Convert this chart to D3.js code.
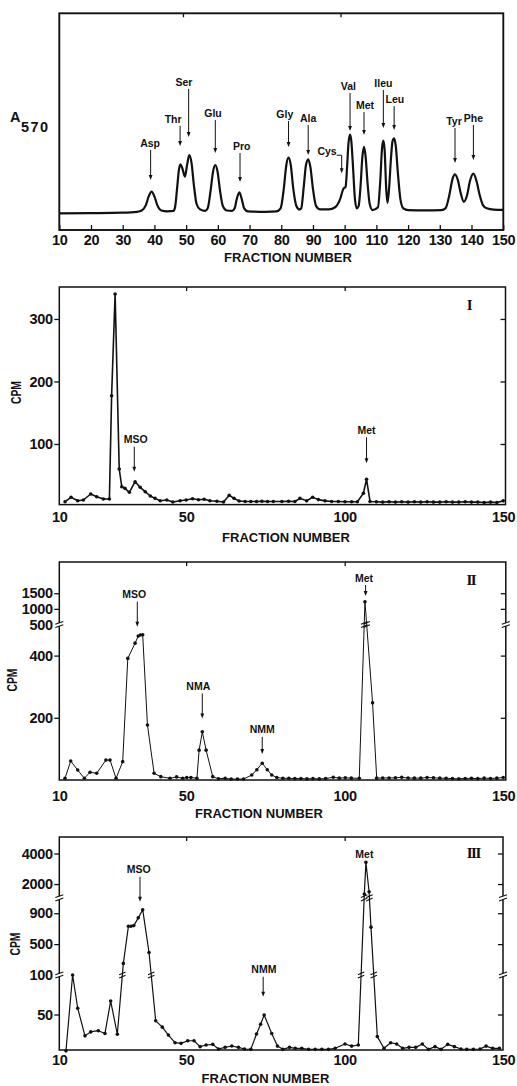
<!DOCTYPE html>
<html><head><meta charset="utf-8">
<script src="https://cdn.jsdelivr.net/npm/d3@7/dist/d3.min.js"></script>
<style>html,body{margin:0;padding:0;background:#fff}svg{display:block}</style>
</head><body>
<svg id="chart" width="517" height="1086"></svg>
<script>
// ================= DATA =================
// shared x ticks
const xTickValuesAmino = [10,20,30,40,50,60,70,80,90,100,110,120,130,140,150];
const xTickValuesCpm = [10,50,100,150];
const topTickFractionAmino = [49,98.7];
const topTickFractionCpm = [50,100];

// Panel A: amino acid analyser trace (A570)
const a570Fraction = [10,20,30,34.5,
  36,37.3,38.2,39.1,40,40.9,42.2,44,46,
  46.5,47.2,47.7,48.2,48.8,49.6,50.3,51.0,51.7,52.5,53.3,54.4,56,
  56.8,57.7,58.5,59.2,59.9,60.7,61.6,62.8,64.5,
  65.3,66,66.8,67.5,68.3,69.5,75,78.5,
  79.8,80.8,81.6,82.3,83,83.8,84.8,85.8,
  86.3,87.1,87.8,88.5,89.2,90,91,92.3,95,
  97,98.5,99.6,100.3,100.8,101.2,101.7,102.1,102.6,103.2,103.8,
  104.4,105,105.6,106.1,106.6,107.2,107.9,108.8,
  110.5,111.2,111.8,112.2,112.6,113.1,113.5,
  114,114.6,115.1,115.6,116.1,116.8,117.6,118.5,120,125,130.5,
  131.8,133,134,134.8,135.7,136.6,137.6,
  138.6,139.5,140.6,141.6,142.6,143.6,144.8,147,150];
const a570Value = [0.077,0.078,0.080,0.084,
  0.090,0.115,0.155,0.177,0.155,0.115,0.090,0.086,0.088,
  0.105,0.200,0.275,0.303,0.285,0.246,0.300,0.346,0.310,0.200,0.120,0.095,0.088,
  0.100,0.180,0.270,0.300,0.270,0.180,0.110,0.090,0.088,
  0.100,0.145,0.174,0.145,0.100,0.086,0.084,0.086,
  0.100,0.190,0.300,0.334,0.300,0.190,0.110,0.095,
  0.100,0.200,0.300,0.326,0.290,0.190,0.110,0.095,0.095,
  0.105,0.140,0.190,0.200,0.300,0.400,0.440,0.410,0.300,0.150,0.100,
  0.110,0.200,0.340,0.384,0.340,0.220,0.120,0.092,
  0.105,0.220,0.380,0.412,0.370,0.190,0.125,
  0.190,0.330,0.410,0.423,0.390,0.260,0.140,0.100,0.092,0.091,0.092,
  0.100,0.160,0.235,0.257,0.230,0.170,0.130,
  0.160,0.225,0.260,0.225,0.160,0.115,0.100,0.094,0.093];
const aminoNames = ["Asp","Thr","Ser","Glu","Pro","Gly","Ala","Cys","Val","Met","Ileu","Leu","Tyr","Phe"];
const aminoArrowFraction = [38.8,48.1,50.8,59.2,67.0,82.3,88.5,99.06,101.7,106.1,112.2,115.6,134.8,140.6];
const aminoArrowTip = [0.231,0.388,0.429,0.355,0.2215,0.383,0.346,0.262,0.457,0.438,0.471,0.461,0.309,0.323];

// Panel I
const cpm1Fraction = [11.8,13.7,15.8,17.6,19.9,21.8,23.9,25.8,26.5,27.6,28.9,29.7,30.7,32.1,33.9,35.5,37.1,38.7,40.2,41.8,43.9,45.8,48.1,50.0,52.0,53.9,55.7,57.5,59.7,61.8,63.6,65.1,66.7,68.6,70.4,72.2,73.9,75.7,77.5,80.2,82.3,84.3,85.9,88.0,89.9,91.7,93.8,95.9,98.0,100.1,102.2,104.0,105.9,106.9,108.0,110,112,114,116,118,120,122,124,126,128,130,132,134,136,138,140,142,144,146,148,150];
const cpm1Value = [7.7,14.7,9.3,10.4,20,15.7,12,12,177,340,60,31.7,29,22.7,39.7,30.7,23.7,16.8,13,9.3,10.4,7.2,9.3,10.4,12.5,10.9,11.5,9.3,8.3,7.2,17.9,13,8.8,8,8,8,8.5,8,8,8,8.5,8,13,9,14.7,11,9,8,8,7.5,7.5,7.5,21,43.5,8,7.5,7,7.5,7,7.5,7,7.5,7,7.5,7,7,7.5,7,7,7.5,7,7,6.5,7,6.5,9];
const cpm1Ticks = [100,200,300];
const cpm1Names = ["MSO","Met"];
const cpm1ArrowFraction = [33.65,106.9];
const cpm1ArrowTip = [55.7,69];

// Panel II (broken axis at 500)
const cpm2Fraction = [11.8,13.6,15.8,17.9,19.7,21.8,24.7,26.0,27.9,30.0,31.6,33.9,34.9,35.6,36.3,37.8,39.9,42.0,44.9,47.0,48.9,50.2,51.5,53.4,54.1,55.1,56.3,58.4,60.2,62.3,64.2,66.2,68.1,70.7,72.3,74.0,75.6,77.0,78.6,80.5,82.4,84.3,86.2,88.1,90.0,92.0,94.0,96.4,98.3,100.2,102.1,104.6,106.4,108.8,110.1,112,114,116,118,120,122,124,126,128,130,132,134,136,138,140,142,144,146,148,150];
const cpm2Value = [5.5,61,32,5.5,25,21.5,64,64,5.5,59,391,440,463,466,467,177,21.5,10.7,5.5,10,5.5,8,8,5.5,96,155,96,10.7,4,5.5,3,3,3,16,33,54,33,16,8,5.5,5.5,4.5,4.5,3.5,4.5,3.5,4.5,9,6,7,6,5.5,1230,248,6,6.5,6.5,7,8.5,6.5,6,6,8,7,6,5.5,4.5,3.5,5,5.5,4.5,6,5,6,8];
const cpm2Ticks = [200,400,500,1000,1500];
const cpm2Breaks = [500];
const cpm2Names = ["MSO","NMA","NMM","Met"];
const cpm2ArrowFraction = [34.6,55.1,74.0,106.6];
const cpm2ArrowTip = [493,198,84,1412];

// Panel III (broken axis at 100 and 1100)
const cpm3Fraction = [12.1,14.2,15.8,18.1,19.9,22.3,24.4,26.2,28.3,30.2,31.8,32.6,33.5,34.9,36.3,38.3,40.4,42.5,44.4,46.5,48.4,50.5,52.5,54.4,56.3,58.4,60.2,62.3,64.4,66.5,68.4,70.4,72.2,73.5,74.6,77.0,78.8,80.5,82.6,84.4,86.5,88.6,90.7,92.8,94.9,97.0,100.1,102.2,104.3,106.2,106.7,107.7,108.3,110.3,112.4,114.5,116.4,118.3,120.3,122.4,124.5,126.4,128.5,130.4,132.5,134.6,136.7,138.5,140.6,142.7,144.6,146.7,148.8];
const cpm3Value = [4,100,58,23,28,29.5,26,67,25,250,732,732,740,840,946,391,42,34,24,14.3,13.5,16.8,16.8,9.3,11.4,12.2,6.3,8.4,10.1,8.4,6.3,5.9,25.3,37.6,49.4,26,10,5.9,8.4,7.2,7.2,5.9,5.9,5.9,5.9,7.2,12.7,10,11.4,1347,3420,1500,720,22,7.2,14.3,12.7,7.2,8.4,8.4,12.7,5.9,9.3,5.9,12.2,9.3,6.3,5.9,5.9,6.3,10,7.2,7.2];
const cpm3Ticks = [50,100,500,900,2000,4000];
const cpm3Breaks = [100,1100];
const cpm3Names = ["MSO","NMM","Met"];
const cpm3ArrowFraction = [35.45,74.3,106.7];
const cpm3ArrowTip = [1049,72.5,3420];

// ================= LAYOUT / STYLE =================
const ink = "#111";
const NUMF = "'Liberation Sans', Arial, sans-serif";
const TXTF = "'Liberation Sans', Arial, sans-serif";
const SERF = "'Liberation Serif', 'Times New Roman', serif";
const NUM_SIZE = 14.5;
const aminoLayout = { // arrow length (px) and label x offset (px)
  len: [30,20,48,33,29,26,30,18,38,23,38,24,35,35],
  dx:  [-0.5,-7,-4.7,-2.3,1.7,-3.7,0,0,-1.7,1,0,0.7,-1,0]
};

const svg = d3.select("#chart");
const x = d3.scaleLinear().domain([10,150]).range([59.3,503.2]);

function frame(p, sw){
  svg.append("rect").attr("x",p.left).attr("y",p.top)
    .attr("width",p.right-p.left).attr("height",p.bottom-p.top)
    .attr("fill","none").attr("stroke",ink).attr("stroke-width",sw);
}
function styleAxis(g, fs){
  g.select(".domain").remove();
  g.selectAll("line").attr("stroke",ink).attr("stroke-width",1.3);
  g.selectAll("text").attr("fill",ink).attr("font-family",NUMF)
    .attr("font-weight","bold").attr("font-size",fs).attr("letter-spacing",-0.3);
  return g;
}
function label(txt, xx, yy, opts={}){
  return svg.append("text").attr("x",xx).attr("y",yy).text(txt)
    .attr("fill",ink).attr("font-family",opts.font||TXTF).attr("font-weight","bold")
    .attr("font-size",opts.size||10.5).attr("text-anchor",opts.anchor||"middle")
    .attr("letter-spacing",opts.ls||0);
}
function arrow(xa, y1, yTip, sw=1){
  svg.append("line").attr("x1",xa).attr("x2",xa).attr("y1",y1).attr("y2",yTip-3)
    .attr("stroke",ink).attr("stroke-width",sw);
  svg.append("path").attr("d",`M${xa-1.9},${yTip-5}L${xa+1.9},${yTip-5}L${xa},${yTip}Z`).attr("fill",ink);
}
function breakMark(cx, cy, half=4, gapWhite=false){
  if(gapWhite) svg.append("rect").attr("x",cx-2).attr("y",cy-1.6).attr("width",4).attr("height",3.2).attr("fill","#fff");
  [-1.7,1.7].forEach(o=>{
    svg.append("line").attr("x1",cx-half).attr("y1",cy+o+1.4).attr("x2",cx+half).attr("y2",cy+o-1.4)
      .attr("stroke",ink).attr("stroke-width",1.1);
  });
}
function xTitle(cx, by){
  label("FRACTION NUMBER", cx, by, {size:13});
}
function cpmTitle(cx, cy){
  svg.append("text").attr("transform",`translate(${cx},${cy}) rotate(-90)`)
    .attr("text-anchor","middle").attr("dy","0.36em").text("CPM")
    .attr("fill",ink).attr("font-family",TXTF).attr("font-weight","bold")
    .attr("font-size",14.5).attr("textLength",23).attr("lengthAdjust","spacingAndGlyphs");
}

// ================= PANEL A =================
const PA = {left:59.3,right:503.3,top:13.3,bottom:230};
const yA = d3.scaleLinear().domain([0,1]).range([PA.bottom,PA.top]);
frame(PA, 1.9);
styleAxis(svg.append("g").attr("transform",`translate(0,${PA.bottom})`)
  .call(d3.axisBottom(x).tickValues(xTickValuesAmino).tickSize(-5).tickPadding(4.6).tickFormat(d3.format("d"))), NUM_SIZE);
styleAxis(svg.append("g").attr("transform",`translate(0,${PA.top})`)
  .call(d3.axisTop(x).tickValues(topTickFractionAmino).tickSize(-4).tickFormat("")), NUM_SIZE);
svg.append("path").datum(d3.zip(a570Fraction,a570Value))
  .attr("d", d3.line().x(d=>x(d[0])).y(d=>yA(d[1])).curve(d3.curveMonotoneX))
  .attr("fill","none").attr("stroke",ink).attr("stroke-width",2.2).attr("stroke-linejoin","round");
aminoNames.forEach((n,i)=>{
  const xa = x(aminoArrowFraction[i]), tip = yA(aminoArrowTip[i]), y1 = tip - aminoLayout.len[i];
  if(n==="Cys"){
    svg.append("path").attr("d",`M${xa-5},${y1}H${xa}V${tip-3}`).attr("fill","none").attr("stroke",ink).attr("stroke-width",1);
    svg.append("path").attr("d",`M${xa-1.9},${tip-5}L${xa+1.9},${tip-5}L${xa},${tip}Z`).attr("fill",ink);
    label(n, xa-5, y1, {anchor:"end"});
  } else {
    arrow(xa, y1, tip);
    label(n, xa + aminoLayout.dx[i], y1 - 3);
  }
});
const aT = svg.append("text").attr("x",10).attr("y",122).attr("fill",ink)
  .attr("font-family",NUMF).attr("font-weight","bold").attr("font-size",14.5);
aT.append("tspan").text("A");
aT.append("tspan").attr("dx",0.5).attr("dy",10).attr("letter-spacing",1.5).text("570");
xTitle(288, 261.7);

// ================= generic CPM panel =================
function cpmPanel(P, y, fr, val, ticks, breaks, names, aFr, aTip, aLen, aDx, roman, romanPos, xPad, lineW, cpmPos, titlePos){
  frame(P, 1.5);
  const gl = styleAxis(svg.append("g").attr("transform",`translate(${P.left},0)`)
    .call(d3.axisLeft(y).tickValues(ticks).tickSize(5).tickPadding(1.5).tickFormat(d3.format("d"))), NUM_SIZE);
  gl.selectAll(".tick").filter(d=>breaks.includes(d)).select("line").remove();
  styleAxis(svg.append("g").attr("transform",`translate(${P.right},0)`)
    .call(d3.axisLeft(y).tickValues(ticks.filter(t=>!breaks.includes(t))).tickSize(5).tickFormat("")), NUM_SIZE);
  styleAxis(svg.append("g").attr("transform",`translate(0,${P.bottom})`)
    .call(d3.axisBottom(x).tickValues(xTickValuesCpm).tickSize(0).tickPadding(xPad).tickFormat(d3.format("d"))), NUM_SIZE);
  styleAxis(svg.append("g").attr("transform",`translate(0,${P.top})`)
    .call(d3.axisTop(x).tickValues(topTickFractionCpm).tickSize(-4).tickFormat("")), NUM_SIZE);
  breaks.forEach(b=>{ breakMark(P.left, y(b), 4, true); breakMark(P.right, y(b), 4, true); });
  const pts = d3.zip(fr,val);
  svg.append("path").datum(pts)
    .attr("d", d3.line().x(d=>x(d[0])).y(d=>y(d[1])))
    .attr("fill","none").attr("stroke",ink).attr("stroke-width",lineW).attr("stroke-linejoin","round");
  for(let i=1;i<pts.length;i++){
    const [f1,v1]=pts[i-1],[f2,v2]=pts[i];
    breaks.forEach(b=>{
      if((v1-b)*(v2-b)<0){
        const ya=y(v1), yb=y(v2), yc=y(b), t=(yc-ya)/(yb-ya);
        breakMark(x(f1)+t*(x(f2)-x(f1)), yc, 3.2, false);
      }
    });
  }
  svg.append("g").selectAll("circle").data(pts).join("circle")
    .attr("cx",d=>x(d[0])).attr("cy",d=>y(d[1])).attr("r",1.8).attr("fill",ink);
  names.forEach((n,i)=>{
    const xa = x(aFr[i]), tip = y(aTip[i]);
    if(aLen[i]>0){
      arrow(xa, tip-aLen[i], tip);
      label(n, xa + aDx[i], tip - aLen[i] - 3.5);
    } else {
      label(n, xa + aDx[i], tip - 4.5);
    }
  });
  label(roman, romanPos[0], romanPos[1], {font:SERF, size:15, ls:-1.5});
  cpmTitle(cpmPos[0], cpmPos[1]);
  xTitle(titlePos[0], titlePos[1]);
}

// Panel I
const P1 = {left:59.3,right:505.5,top:287,bottom:504.6};
const y1 = d3.scaleLinear().domain([0,350]).range([506.5,287.7]);
cpmPanel(P1, y1, cpm1Fraction, cpm1Value, cpm1Ticks, [], cpm1Names, cpm1ArrowFraction, cpm1ArrowTip,
  [25,26], [1.5,0], "I", [469,310], 6.9, 1.6, [15.5,392.5], [286,541.7]);

// Panel II
const P2 = {left:59.3,right:505.8,top:562,bottom:780};
const y2 = d3.scaleLinear().domain([0,500,2500]).range([780,624.5,562]);
cpmPanel(P2, y2, cpm2Fraction, cpm2Value, cpm2Ticks, cpm2Breaks, cpm2Names, cpm2ArrowFraction, cpm2ArrowTip,
  [25,25,17,11], [-3,-4,0,-1.5], "II", [470.8,585], 11.2, 1.0, [11.7,680], [259,818]);

// Panel III
const P3 = {left:59.3,right:503,top:837,bottom:1050};
const y3 = d3.scaleLinear().domain([0,100,1100,5100]).range([1054,975,897.8,836.7]);
cpmPanel(P3, y3, cpm3Fraction, cpm3Value, cpm3Ticks, cpm3Breaks, cpm3Names, cpm3ArrowFraction, cpm3ArrowTip,
  [25,20,0], [-1.2,0.7,-1.5], "III", [473.3,858.3], 4.5, 1.2, [15,944], [265.5,1083]);
</script>
</body></html>
